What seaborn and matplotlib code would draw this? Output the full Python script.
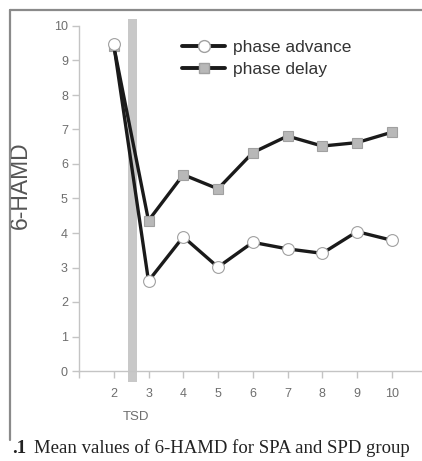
import numpy as np
import pandas as pd
import matplotlib
matplotlib.use("Agg")
import matplotlib.pyplot as plt
from matplotlib.lines import Line2D
import seaborn as sns

sns.set_theme(style="white")
plt.rcParams['font.family'] = ['Liberation Sans', 'DejaVu Sans']

# data
days = [2, 3, 4, 5, 6, 7, 8, 9, 10]
phase_advance = [9.47, 2.61, 3.89, 3.01, 3.73, 3.54, 3.41, 4.04, 3.79]
phase_delay = [9.42, 4.36, 5.69, 5.28, 6.33, 6.81, 6.52, 6.62, 6.92]
y_ticks = list(range(0, 11))
x_ticks = [1, 2, 3, 4, 5, 6, 7, 8, 9, 10]
x_tick_labels = ["", "2", "3", "4", "5", "6", "7", "8", "9", "10"]
tsd_band = (2.41, 2.67)

W, H = 422, 461
fig = plt.figure(figsize=(W / 100, H / 100), dpi=100)
ax = fig.add_axes([79 / W, 90 / H, 343 / W, 345 / H])

axis_grey = "#c4c4c4"
text_grey = "#6e6e6e"

ax.axvspan(*tsd_band, ymin=-0.032, ymax=1.02, color="#c8c8c8", lw=0,
           clip_on=False, zorder=1)

df_adv = pd.DataFrame({"day": days, "score": phase_advance})
df_del = pd.DataFrame({"day": days, "score": phase_delay})

sns.lineplot(data=df_del, x="day", y="score", ax=ax, color="#1a1a1a", lw=2.4,
             marker="s", markersize=7, markerfacecolor="#b8b8b8",
             markeredgecolor="#a0a0a0", markeredgewidth=0.8, zorder=3)
sns.lineplot(data=df_adv, x="day", y="score", ax=ax, color="#1a1a1a", lw=2.4,
             marker="o", markersize=8.5, markerfacecolor="white",
             markeredgecolor="#a0a0a0", markeredgewidth=0.8, zorder=4)

ax.set_xlim(1, 1 + 343 / 34.75)
ax.set_ylim(0, 10)
ax.set_xticks(x_ticks)
ax.set_xticklabels(x_tick_labels)
ax.set_yticks(y_ticks)

for side in ["top", "right"]:
    ax.spines[side].set_visible(False)
for side in ["left", "bottom"]:
    ax.spines[side].set_color(axis_grey)
    ax.spines[side].set_linewidth(1.0)

ax.tick_params(axis="both", which="both", direction="out", length=5,
               width=1.0, color=axis_grey, labelcolor=text_grey,
               labelsize=9, left=True, bottom=True)
ax.tick_params(axis="x", pad=7)
ax.tick_params(axis="y", pad=3)

ax.set_xlabel("")
ax.set_ylabel("6-HAMD", fontsize=16.5, color="#555555")
ax.yaxis.set_label_coords(-0.138, 0.54)

fig.text(136 / W, 1 - 417 / H, "TSD", fontsize=9.5, color=text_grey,
         ha="center", va="center")

handles = [
    Line2D([], [], color="#1a1a1a", lw=2.8, marker="o", markersize=8.5,
           markerfacecolor="white", markeredgecolor="#a0a0a0"),
    Line2D([], [], color="#1a1a1a", lw=2.8, marker="s", markersize=7,
           markerfacecolor="#b8b8b8", markeredgecolor="#a0a0a0"),
]
leg = ax.legend(handles, ["phase advance", "phase delay"], loc="upper left",
                bbox_to_anchor=(0.30, 0.960), frameon=False, fontsize=12.5,
                handlelength=2.5, handletextpad=0.45, labelspacing=0.42,
                borderpad=0, borderaxespad=0)
for t in leg.get_texts():
    t.set_color("#333333")

# page frame
fig.add_artist(Line2D([10 / W, 1], [1 - 10 / H, 1 - 10 / H], color="#8a8a8a",
                      lw=1.6, transform=fig.transFigure))
fig.add_artist(Line2D([10 / W, 10 / W], [1 - 10 / H, 1 - 440 / H],
                      color="#8a8a8a", lw=1.6, transform=fig.transFigure))

fig.text(12 / W, 1 - 448 / H, ".1", fontsize=13.5, fontweight="bold",
         family="Liberation Serif", color="#222222", va="center")
fig.text(34 / W, 1 - 448 / H, "Mean values of 6-HAMD for SPA and SPD group",
         fontsize=13.5, family="Liberation Serif", color="#222222", va="center")

fig.savefig("out.png", dpi=100)
